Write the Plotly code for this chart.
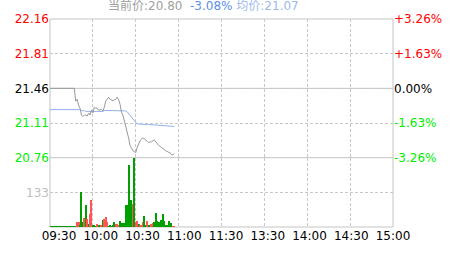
import plotly.graph_objects as go

# ---------------- data ----------------
prev_close = 21.46
price_ticks = [20.76, 21.11, 21.46, 21.81, 22.16]
price_tick_colors = ["#00ee00", "#00ee00", "#000000", "#ff0000", "#ff0000"]
pct_labels = ["-3.26%", "-1.63%", "0.00%", "+1.63%", "+3.26%"]
time_labels = ["09:30", "10:00", "10:30", "11:00", "11:30", "13:30", "14:00", "14:30", "15:00"]
vol_tick = 133
vol_max = 266

# minute index from 09:30
price = [21.46] * 18 + [
    21.33, 21.35, 21.29, 21.26, 21.19, 21.175, 21.19, 21.19, 21.18, 21.21,
    21.19, 21.24, 21.21, 21.27, 21.26, 21.26, 21.24, 21.24, 21.25, 21.23,
    21.27, 21.33, 21.35, 21.37, 21.35, 21.345, 21.335, 21.345, 21.35, 21.37,
    21.345, 21.30, 21.22, 21.19, 21.135, 21.085, 21.03, 20.96, 20.885, 20.85,
    20.83, 20.82, 20.81, 20.865, 20.904, 20.93, 20.95, 20.96, 20.95, 20.94,
    20.926, 20.91, 20.92, 20.92, 20.935, 20.94, 20.92, 20.90, 20.885, 20.875,
    20.86, 20.85, 20.84, 20.83, 20.82, 20.815, 20.81, 20.79, 20.79, 20.80,
]
avg_price = [21.245] * 22 + [21.235] * 3 + [21.227] * 13 + [21.237] * 15 + [
    21.232, 21.222, 21.205, 21.19, 21.17, 21.15, 21.13, 21.11, 21.10, 21.10,
    21.098, 21.097, 21.096, 21.096, 21.095, 21.095, 21.095, 21.094, 21.094,
    21.093, 21.093, 21.092, 21.091, 21.09, 21.089, 21.088, 21.087, 21.086, 21.085,
    21.083, 21.082, 21.080, 21.078, 21.077, 21.075,
]
volume = [2] * 18 + [
    7, 20, 22, 10, 137, 20, 36, 86, 31, 12,
    53, 104, 9, 8, 6, 14, 8, 9, 10, 30,
    31, 38, 21, 7, 8, 7, 9, 20, 14, 14,
    10, 24, 17, 18, 17, 86, 85, 238, 66, 103,
    90, 265, 20, 26, 12, 9, 8, 22, 45, 9,
    24, 9, 7, 12, 17, 20, 54, 26, 21, 9,
    30, 50, 24, 9, 8, 26, 9, 18, 5, 4,
]
# r = up minute (red), g = down minute (green)
vol_dir = ("g" * 18
           + "grrgggrgrg"
           + "rrgggrggrg"
           + "rrrgggggrr"
           + "rggggggggg"
           + "rgrrgrrrgg"
           + "rggrrggggg"
           + "ggggggggrr")
# ---------------------------------------

minutes = list(range(len(price)))
bar_colors = ["#ff5555" if d == "r" else "#00a000" for d in vol_dir]

FONT = "DejaVu Sans, Noto Sans CJK SC, sans-serif"
GRID = "#c8c8c8"
FRAME = "#c4c4c4"
DASH = "3px,2px"

fig = go.Figure()
fig.add_trace(go.Bar(x=minutes, y=volume, xaxis="x", yaxis="y2",
                     marker=dict(color=bar_colors, line=dict(width=0)),
                     width=0.75, showlegend=False, hoverinfo="skip"))
fig.add_trace(go.Scatter(x=minutes, y=avg_price, xaxis="x", yaxis="y", mode="lines",
                         line=dict(color="#8fb1ee", width=1), showlegend=False))
fig.add_trace(go.Scatter(x=minutes, y=price, xaxis="x", yaxis="y", mode="lines",
                         line=dict(color="#999999", width=1), showlegend=False))
# carriers for overlay axes (no visible marks)
fig.add_trace(go.Scatter(x=[None], y=[None], xaxis="x3", yaxis="y2", showlegend=False))
fig.add_trace(go.Scatter(x=[None], y=[None], xaxis="x", yaxis="y3", showlegend=False))

total_min = 240
plot_w = 343
n_lab = len(time_labels)
lab_first_px = 9.0                      # first label centre right of axis start
lab_step_px = (plot_w - lab_first_px) / (n_lab - 1)
lab_range = [-lab_first_px / lab_step_px, n_lab - 1 + 1e-4]

left_text = [f'<span style="color:{c}">{p:.2f}</span>' for p, c in zip(price_ticks, price_tick_colors)]
right_text = [f'<span style="color:{c}">{t}</span>' for t, c in zip(pct_labels, price_tick_colors)]

fig.update_layout(
    width=463, height=255,
    margin=dict(l=50, r=70, t=12, b=24, pad=0),
    paper_bgcolor="white", plot_bgcolor="white",
    font=dict(family=FONT, size=12, color="#000"),
    bargap=0,
    xaxis=dict(domain=[0, 1], anchor="y2", range=[0, total_min],
               tickvals=list(range(30, total_min, 30)), showticklabels=False,
               showgrid=True, gridcolor=GRID, griddash=DASH, gridwidth=1,
               zeroline=False, ticks="", showline=False, fixedrange=True),
    xaxis3=dict(overlaying="x", anchor="y2", side="bottom", range=lab_range,
                tickvals=list(range(n_lab)), ticktext=time_labels, showgrid=False,
                zeroline=False, ticks="", showline=False,
                tickfont=dict(size=12, color="#000")),
    yaxis=dict(domain=[1/3, 1], anchor="x", range=[price_ticks[0], price_ticks[-1]],
               tickvals=price_ticks, ticktext=left_text, showgrid=True,
               gridcolor=GRID, griddash=DASH, zeroline=False, ticks="",
               showline=False, tickfont=dict(size=12)),
    yaxis3=dict(overlaying="y", side="right", anchor="x",
                range=[price_ticks[0], price_ticks[-1]],
                tickvals=price_ticks, ticktext=right_text, showgrid=False,
                zeroline=False, ticks="", showline=False, tickfont=dict(size=12)),
    yaxis2=dict(domain=[0, 1/3], anchor="x", range=[0, vol_max],
                tickvals=[vol_tick], ticktext=[str(vol_tick)], showgrid=True,
                gridcolor=GRID, griddash=DASH, zeroline=False, ticks="",
                showline=False, tickfont=dict(size=12, color="#c0c0c0")),
    shapes=[
        dict(type="rect", xref="paper", yref="paper", x0=0, x1=1, y0=0, y1=1,
             line=dict(color=FRAME, width=1), layer="below"),
        dict(type="line", xref="paper", yref="y", x0=0, x1=1, y0=prev_close, y1=prev_close,
             line=dict(color=FRAME, width=1), layer="below"),
        dict(type="line", xref="paper", yref="paper", x0=0, x1=1, y0=1/3, y1=1/3,
             line=dict(color=FRAME, width=1), layer="below"),
    ],
    annotations=[
        dict(xref="paper", yref="paper", x=(106 - 50) / 343, y=1.064,
             xanchor="left", yanchor="middle", showarrow=False,
             font=dict(size=12, color="#a0a0a0", family=FONT),
             text='当前价:20.80\u00a0\u00a0<span style="color:#5b8ee6">-3.08%</span>'
                  '\u00a0<span style="color:#9dbaee">均价:21.07</span>'),
    ],
)

fig.write_html("out.html", config={"displayModeBar": False})
